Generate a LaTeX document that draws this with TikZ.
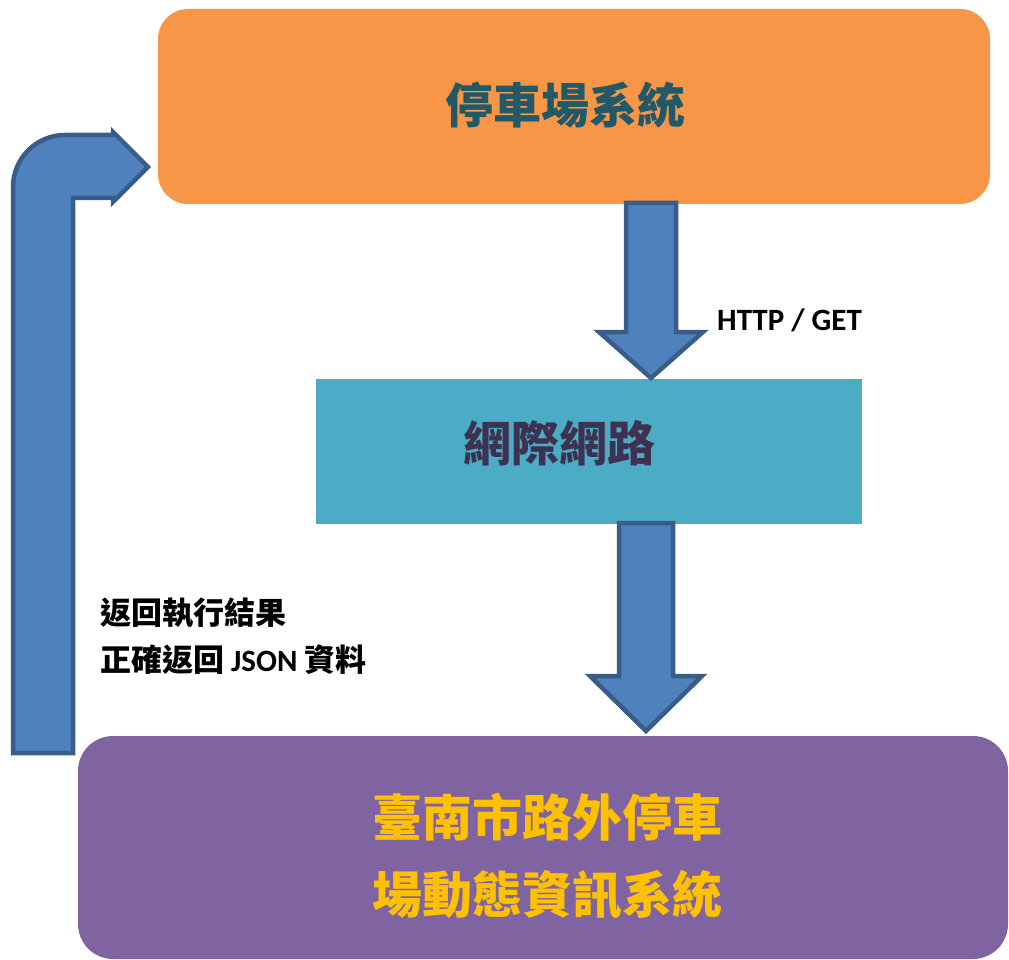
\documentclass[tikz,border=0pt]{standalone}
\usepackage{fontspec}
\setmainfont{Carlito}
\newfontfamily\cjk{Noto Sans CJK TC}
\definecolor{orangeF}{HTML}{F79646}
\definecolor{tealF}{HTML}{4BACC6}
\definecolor{purpleF}{HTML}{8064A2}
\definecolor{arrowF}{HTML}{4F81BD}
\definecolor{arrowD}{HTML}{385D8A}
\definecolor{titleTeal}{HTML}{215968}
\definecolor{titlePurple}{HTML}{3F3151}
\definecolor{titleYellow}{HTML}{FFC000}
\begin{document}
\begin{tikzpicture}[x=1pt,y=-1pt,
  box/.style={draw=none,inner sep=0pt,outer sep=0pt},
  blockarrow/.style={fill=arrowF,draw=arrowD,line width=4.5pt,line join=miter},
  title/.style={inner sep=0pt,font=\cjk\bfseries\fontsize{48}{58}\selectfont},
  lbl/.style={inner sep=0pt,anchor=west,font=\bfseries\fontsize{31}{37}\selectfont}]
\useasboundingbox (0,0) rectangle (1009,960);
% boxes
\node[box,fill=orangeF,rounded corners=30pt,minimum width=832pt,minimum height=195pt] (park) at (574,106.5) {};
\node[box,fill=tealF,minimum width=546pt,minimum height=145pt] (net) at (589,451.5) {};
\node[box,fill=purpleF,rounded corners=35pt,minimum width=930pt,minimum height=223pt] (city) at (543,847.5) {};
% titles
\node[title,text=titleTeal] (parkT) at (565.5,105) {停車場系統};
\node[title,text=titlePurple] (netT) at (559.5,443) {網際網路};
\node[title,text=titleYellow,font=\cjk\bfseries\fontsize{50}{77}\selectfont,align=center] (cityT) at (547.5,856.5) {臺南市路外停車\\場動態資訊系統};
% down arrow 1 (park -> net)
\draw[blockarrow] (626,203) -- (676,203) -- (676,332) -- (703,332) -- (651,378) -- (599,332) -- (626,332) -- cycle;
% down arrow 2 (net -> city)
\draw[blockarrow] (619,523) -- (673,523) -- (673,676) -- (702,676) -- (646,731) -- (590,676) -- (619,676) -- cycle;
% bent return arrow (city -> park)
\draw[blockarrow] (13,753) -- (13,187) .. controls (13,158.3) and (36.3,135) .. (65,135) -- (113,135) -- (113,132) -- (148,167) -- (113,202) -- (113,198) -- (73,198) -- (73,753) -- cycle;
% labels
\node[lbl] (http) at (717,320) {HTTP / GET};
\node[lbl] (ret1) at (100,613) {\cjk 返回執行結果};
\node[lbl] (ret2) at (100,660) {{\cjk 正確返回} JSON {\cjk 資料}};
\end{tikzpicture}
\end{document}
